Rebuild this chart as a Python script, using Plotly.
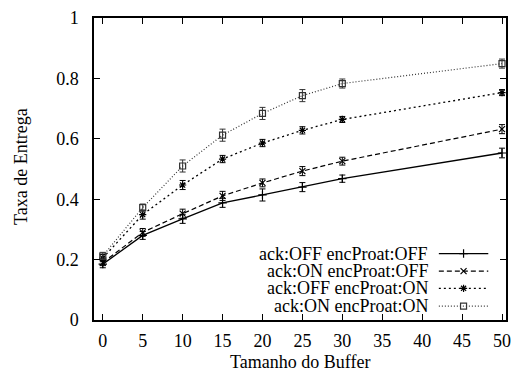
import plotly.graph_objects as go

buffer_sizes = [0, 5, 10, 15, 20, 25, 30, 50]

names = ["ack:OFF encProat:OFF", "ack:ON encProat:OFF",
         "ack:OFF encProat:ON", "ack:ON encProat:ON"]

s_off_off = [0.185, 0.280, 0.335, 0.388, 0.414, 0.440, 0.468, 0.553]
s_on_off = [0.190, 0.290, 0.352, 0.411, 0.454, 0.493, 0.526, 0.632]
s_off_on = [0.205, 0.349, 0.447, 0.533, 0.586, 0.628, 0.664, 0.753]
s_on_on = [0.212, 0.372, 0.510, 0.612, 0.684, 0.743, 0.783, 0.849]

e_off_off = [0.012, 0.013, 0.015, 0.015, 0.020, 0.015, 0.012, 0.016]
e_on_off = [0.010, 0.013, 0.015, 0.015, 0.013, 0.015, 0.013, 0.015]
e_off_on = [0.012, 0.015, 0.015, 0.012, 0.012, 0.012, 0.010, 0.010]
e_on_on = [0.012, 0.012, 0.020, 0.020, 0.020, 0.020, 0.015, 0.015]

series = [s_off_off, s_on_off, s_off_on, s_on_on]
errors = [e_off_off, e_on_off, e_off_on, e_on_on]

styles = [
    dict(dash="solid", symbol="cross-thin-open", color="#000000", width=1.3),
    dict(dash="5px,3px", symbol="x-thin-open", color="#000000", width=1.2),
    dict(dash="2px,3px", symbol="asterisk-open", color="#000000", width=1.3),
    dict(dash="1px,2px", symbol="square-open", color="#333333", width=1.2),
]

FONT = "Liberation Serif, Times New Roman, serif"

fig = go.Figure()
for name, ys, es, st in zip(names, series, errors, styles):
    fig.add_trace(go.Scatter(
        x=buffer_sizes, y=ys, name=name, mode="lines+markers",
        line=dict(color=st["color"], width=st["width"], dash=st["dash"]),
        marker=dict(symbol=st["symbol"], size=6, color=st["color"],
                    line=dict(color=st["color"], width=1.2)),
        error_y=dict(type="data", array=es, visible=True, color=st["color"],
                     thickness=1, width=3),
        showlegend=False, xaxis="x", yaxis="y",
    ))

# custom gnuplot-style key (text left, sample right), on an auxiliary hidden axis
key_rows = [0.220, 0.162, 0.105, 0.046]
key_x0, key_x1, key_xm, key_text_x = 0.837, 0.957, 0.897, 0.815
for name, st, ky in zip(names, styles, key_rows):
    fig.add_trace(go.Scatter(
        x=[key_x0, key_x1], y=[ky, ky], mode="lines",
        line=dict(color=st["color"], width=st["width"], dash=st["dash"]),
        showlegend=False, xaxis="x2", yaxis="y2", hoverinfo="skip"))
    fig.add_trace(go.Scatter(
        x=[key_xm], y=[ky], mode="markers",
        marker=dict(symbol=st["symbol"], size=6, color=st["color"],
                    line=dict(color=st["color"], width=1.2)),
        showlegend=False, xaxis="x2", yaxis="y2", hoverinfo="skip"))
    fig.add_annotation(x=key_text_x, y=ky, xref="paper", yref="paper",
                       text=name, showarrow=False, xanchor="right",
                       yanchor="middle", font=dict(family=FONT, size=18, color="black"))

axis_common = dict(showline=True, linecolor="black", linewidth=1.5, mirror="allticks",
                   ticks="inside", ticklen=6, tickcolor="black", tickwidth=1,
                   showgrid=False, zeroline=False,
                   tickfont=dict(family=FONT, size=18, color="black"))

fig.update_layout(
    width=519, height=376,
    margin=dict(l=94, r=8, t=16, b=56),
    paper_bgcolor="white", plot_bgcolor="white",
    showlegend=False,
    xaxis=dict(range=[-1.1, 50.5], dtick=5, tick0=0, ticklabelstandoff=4, **axis_common),
    yaxis=dict(range=[0, 1], dtick=0.2, tick0=0, ticklabelstandoff=10, **axis_common),
    xaxis2=dict(range=[0, 1], domain=[0, 1], anchor="y2", visible=False, overlaying="x"),
    yaxis2=dict(range=[0, 1], domain=[0, 1], anchor="x2", visible=False, overlaying="y"),
)

fig.add_annotation(x=0.5, y=(320 - 362) / 304, xref="paper", yref="paper",
                   text="Tamanho do Buffer",
                   showarrow=False, xanchor="center", yanchor="middle",
                   font=dict(family=FONT, size=18, color="black"))
fig.add_annotation(x=(20 - 94) / 417, y=(320 - 165) / 304, xref="paper", yref="paper",
                   text="Taxa de Entrega",
                   showarrow=False, textangle=-90, xanchor="center", yanchor="middle",
                   font=dict(family=FONT, size=18, color="black"))

fig.write_html("out.html", config={"displayModeBar": False},
               post_script="document.body.style.margin='0px';document.body.style.padding='0px';")
